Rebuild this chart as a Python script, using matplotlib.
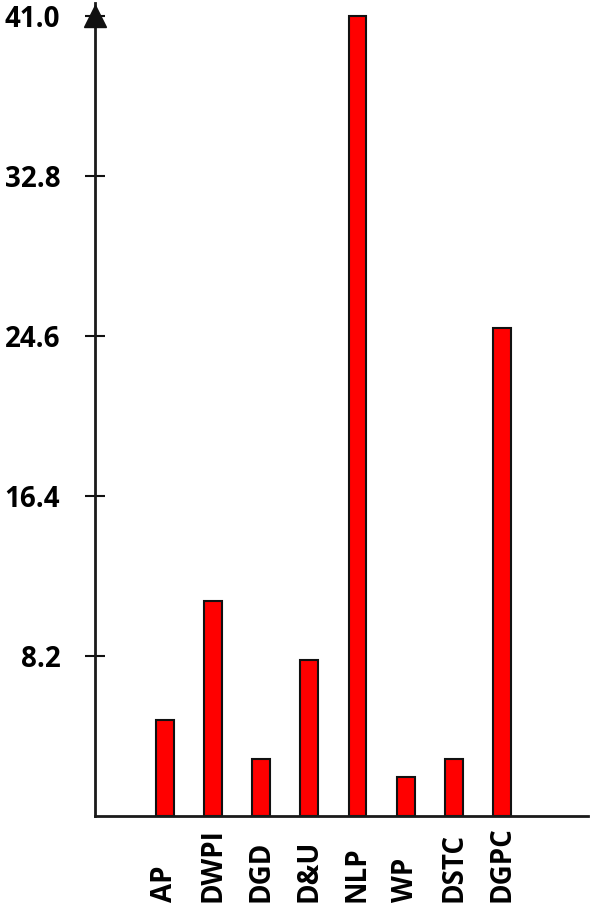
import matplotlib.pyplot as plt
import numpy as np

# data
categories = ['AP', 'DWPI', 'DGD', 'D&U', 'NLP', 'WP', 'DSTC', 'DGPC']
values = [4.9, 11.0, 2.9, 8.0, 41.0, 2.0, 2.9, 25.0]
yticks = [8.2, 16.4, 24.6, 32.8, 41.0]

plt.rcParams['font.family'] = ['Open Sans', 'DejaVu Sans']

fig = plt.figure(figsize=(5.9, 9.08), dpi=100)
ax = fig.add_axes([95 / 590, 92 / 908, (588 - 95) / 590, (816 - 3) / 908])

x = np.arange(len(categories))
ax.bar(x, values, width=0.37, color='#ff0000', edgecolor='#111111', linewidth=1.5, zorder=2)

ax.set_xlim(-1.454, 8.79)
ax.set_ylim(0, 41.67)

# y axis
ax.set_yticks(yticks)
ax.set_yticklabels(['%.1f' % v for v in yticks], fontsize=20, fontweight='bold')
ax.tick_params(axis='y', direction='inout', length=14, width=1.5, pad=18, color='#111111')

# x axis labels, rotated and anchored at the bottom
ax.set_xticks(x)
ax.set_xticklabels(categories, rotation=90, fontsize=20, fontweight='bold', va='bottom')
ax.tick_params(axis='x', length=0, pad=62)

for side in ['top', 'right']:
    ax.spines[side].set_visible(False)
for side in ['left', 'bottom']:
    ax.spines[side].set_linewidth(2)
    ax.spines[side].set_color('#1a1a1a')

# arrow head on the y axis
ax.plot([-1.454], [41.0], marker='^', ms=16, color='#111111', clip_on=False, zorder=3)

fig.savefig('out.png', dpi=100)
